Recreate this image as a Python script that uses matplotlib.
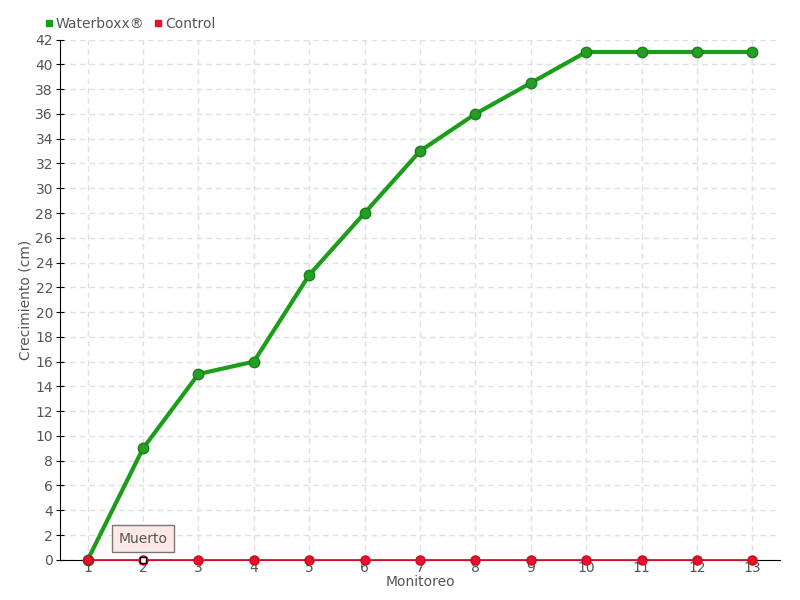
import matplotlib
matplotlib.use("Agg")
import matplotlib.pyplot as plt
from matplotlib.lines import Line2D

plt.rcParams['font.family'] = ['DejaVu Sans']

monitoreo = list(range(1, 14))
waterboxx = [0, 9, 15, 16, 23, 28, 33, 36, 38.5, 41, 41, 41, 41]
control = [0] * 13
yticks = list(range(0, 43, 2))

fig = plt.figure(figsize=(8, 6), dpi=100)
ax = fig.add_axes([0.075, 0.067, 0.9, 0.867])

green = '#1a9e1a'
red = '#e8102a'
txt = '#555555'
ax.plot(monitoreo, waterboxx, color=green, lw=3, marker='o', ms=7.5,
        markerfacecolor='#23a023', markeredgecolor='#1c7d1c', zorder=3,
        clip_on=False)
ax.plot(monitoreo, control, color=red, lw=1.3, marker='o', ms=6.5,
        markerfacecolor='#e8102a', markeredgecolor='#c80a20', zorder=5,
        clip_on=False)

ax.set_xlim(0.5, 13.5)
ax.set_ylim(0, 42)
ax.set_xticks(monitoreo)
ax.set_yticks(yticks)
ax.tick_params(axis='both', labelsize=10, colors=txt)
ax.tick_params(axis='y', color='black', direction='inout', length=6, pad=2)
ax.tick_params(axis='x', length=0, pad=1)
ax.grid(True, color='#e0e0e0', ls=(0, (4, 3)), lw=1)
ax.set_axisbelow(True)
for s in ['top', 'right']:
    ax.spines[s].set_visible(False)
ax.spines['left'].set_color('black')
ax.spines['bottom'].set_color('black')
ax.set_xlabel('Monitoreo', fontsize=10, color=txt, labelpad=0)
ax.set_ylabel('Crecimiento (cm)', fontsize=10, color=txt, labelpad=2)

ax.annotate('Muerto', xy=(2, 0), xytext=(2, 1.7), ha='center', va='center',
            fontsize=10, color=txt,
            bbox=dict(boxstyle='square,pad=0.45', fc='#fde8e8', ec='#777777', lw=1),
            zorder=6)
ax.plot([2], [0], marker='s', ms=4.5, mfc='white', mec='black', zorder=7,
        clip_on=False)

handles = [Line2D([], [], marker='s', ls='', color=green, ms=4.5),
           Line2D([], [], marker='s', ls='', color=red, ms=4.5)]
fig.legend(handles, ['Waterboxx®', 'Control'], loc='upper left',
           bbox_to_anchor=(0.035, 0.993), ncol=2, frameon=False, fontsize=10,
           handletextpad=-0.1, columnspacing=0.4, handlelength=1.2,
           labelcolor=txt)

fig.savefig('out.png', dpi=100)
